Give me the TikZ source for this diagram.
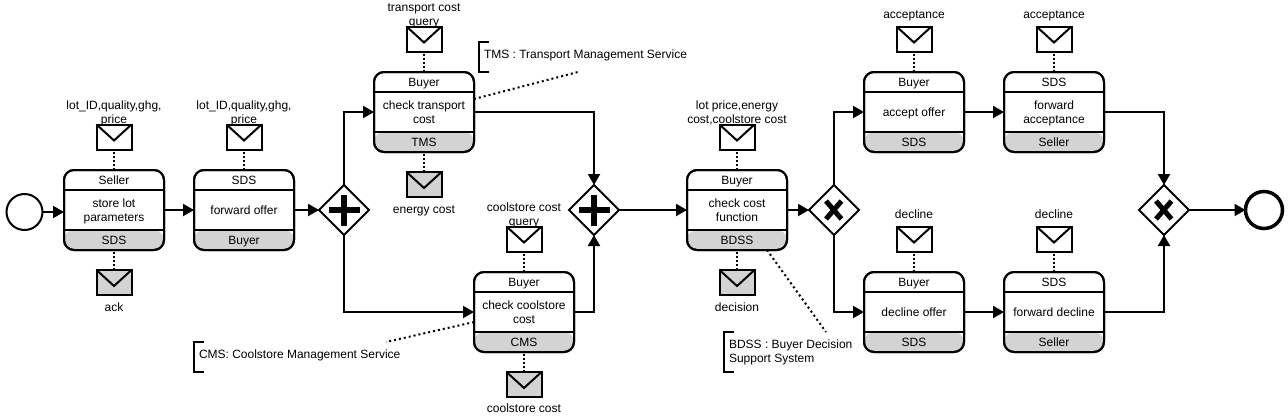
\documentclass[tikz,border=0pt]{standalone}
\usepackage{fontspec}
\setmainfont{Liberation Sans}
\usetikzlibrary{shapes.geometric,arrows.meta,calc}
\definecolor{greyband}{HTML}{D3D3D3}
\tikzset{
  x=1pt,y=-1pt,
  every node/.style={inner sep=0pt,outer sep=0pt,font=\fontsize{12}{14}\selectfont,align=center,text=black},
  lab/.style={execute at begin node={\rule{0pt}{11.5pt}},execute at end node={\rule[-3.5pt]{0pt}{3.5pt}}},
  labtwo/.style={lab,yshift=-2pt},
  taskbox/.style={draw,line width=2pt,rounded corners=10pt,minimum width=100pt,minimum height=80pt,
    path picture={\fill[greyband] ([yshift=20pt]path picture bounding box.south west) rectangle (path picture bounding box.north east |- path picture bounding box.south);}},
  envbox/.style={draw,line width=2pt,minimum width=35pt,minimum height=25pt},
  gatebox/.style={draw,diamond,line width=2pt,minimum width=50pt,minimum height=50pt,aspect=1,fill=white},
  eventc/.style={draw,circle,line width=2pt,minimum size=36pt},
  flow/.style={line width=2pt,-{Triangle[length=11pt,width=12pt]}},
  assoc/.style={line width=2pt,dash pattern=on 2pt off 3pt},
  assocv/.style={line width=2pt,dash pattern=on 2pt off 2pt,dash phase=2pt},
  divider/.style={line width=2pt},
  bracketline/.style={line width=2pt},
  note/.style={align=left,anchor=west},
}
\newcommand{\taskshape}[7][lab]{%
  \node[taskbox] (#2) at (#3,#4+40) {};
  \draw[divider] ([yshift=-20pt]#2.north west) -- ([yshift=-20pt]#2.north east);
  \draw[divider] ([yshift=20pt]#2.south west) -- ([yshift=20pt]#2.south east);
  \draw[line width=2pt,rounded corners=10pt] (#2.north west) rectangle (#2.south east);
  \node[lab] (#2h) at (#3,#4+10) {#5};
  \node[#1] (#2b) at (#3,#4+40) {#6};
  \node[lab] (#2f) at (#3,#4+70) {#7};
}
\newcommand{\envshape}[4]{%
  \node[envbox,fill=#4] (#1) at (#2,#3+12.5) {};
  \draw[line width=2pt,line join=miter] (#1.north west) -- ($(#1.north)+(0,-16pt)$) -- (#1.north east);
}
\newcommand{\plusglyph}[1]{%
  \draw[line width=6.5pt] ($(#1)+(-15.5pt,0)$) -- ($(#1)+(15.5pt,0)$);
  \draw[line width=6.5pt] ($(#1)+(0,-15.5pt)$) -- ($(#1)+(0,15.5pt)$);
}
\newcommand{\xglyph}[1]{%
  \draw[line width=5pt] ($(#1)+(-8pt,9pt)$) -- ($(#1)+(7.5pt,-9pt)$);
  \draw[line width=5pt] ($(#1)+(-8pt,-9pt)$) -- ($(#1)+(7.5pt,9pt)$);
}
\begin{document}
\begin{tikzpicture}
\useasboundingbox (0,0) rectangle (1288,416);
% events
\node[eventc] (start) at (24.5,212) {};
\node[eventc,line width=3.5pt,minimum size=37pt] (end) at (1264,210) {};
% tasks
\taskshape[labtwo]{ta}{114}{170}{Seller}{store lot\\parameters}{SDS}
\taskshape{tb}{244}{170}{SDS}{forward offer}{Buyer}
\taskshape[labtwo]{tc}{424}{72}{Buyer}{check transport\\cost}{TMS}
\taskshape[labtwo]{td}{524}{272}{Buyer}{check coolstore\\cost}{CMS}
\taskshape[labtwo]{te}{737}{170}{Buyer}{check cost\\function}{BDSS}
\taskshape{tf}{914}{72}{Buyer}{accept offer}{SDS}
\taskshape[labtwo]{tg}{1054}{72}{SDS}{forward\\acceptance}{Seller}
\taskshape{th}{914}{272}{Buyer}{decline offer}{SDS}
\taskshape{ti}{1054}{272}{SDS}{forward decline}{Seller}
% gateways
\node[gatebox] (ga) at (344,210) {};
\node[gatebox] (gb) at (594,210) {};
\node[gatebox] (gc) at (834,210) {};
\node[gatebox] (gd) at (1164,210) {};
\plusglyph{ga}\plusglyph{gb}\xglyph{gc}\xglyph{gd}
% envelopes
\envshape{ea}{114}{124.5}{white}
\envshape{eb}{244}{124.5}{white}
\envshape{ec}{424}{26.5}{white}
\envshape{ed}{524}{226.5}{white}
\envshape{ee}{737}{124.5}{white}
\envshape{ef}{914}{26.5}{white}
\envshape{eg}{1054}{26.5}{white}
\envshape{eh}{914}{226.5}{white}
\envshape{ei}{1054}{226.5}{white}
\envshape{ej}{114}{270}{greyband}
\envshape{ek}{424}{172}{greyband}
\envshape{el}{524}{372}{greyband}
\envshape{em}{737}{270}{greyband}
% envelope labels
\node[labtwo] (la) at (114,112) {lot\_ID,quality,ghg,\\price};
\node[labtwo] (lb) at (244,112) {lot\_ID,quality,ghg,\\price};
\node[labtwo] (lc) at (424,14) {transport cost\\query};
\node[labtwo] (ld) at (524,214) {coolstore cost\\query};
\node[labtwo] (le) at (737,112) {lot price,energy\\cost,coolstore cost};
\node[lab] (lf) at (914,14) {acceptance};
\node[lab] (lg) at (1054,14) {acceptance};
\node[lab] (lh) at (914,214) {decline};
\node[lab] (li) at (1054,214) {decline};
\node[lab] (lj) at (114,307) {ack};
\node[lab] (lk) at (424,209) {energy cost};
\node[lab] (ll) at (524,408.5) {coolstore cost};
\node[lab] (lm) at (737,307) {decision};
% associations
\foreach \e/\t in {ea/ta,eb/tb,ec/tc,ed/td,ee/te,ef/tf,eg/tg,eh/th,ei/ti}{\draw[assocv] (\e.south) -- (\t.north);}
\foreach \e/\t in {ej/ta,ek/tc,el/td,em/te}{\draw[assocv] (\t.south) -- (\e.north);}
% flows
\draw[flow] (start.east) -- (ta.west |- start.east);
\draw[flow] (ta.east) -- (tb.west);
\draw[flow] (tb.east) -- (ga.west);
\draw[flow] (ga.north) |- (tc.west);
\draw[flow] (ga.south) |- (td.west);
\draw[flow] (tc.east) -| (gb.north);
\draw[flow] (td.east) -| (gb.south);
\draw[flow] (gb.east) -- (te.west);
\draw[flow] (te.east) -- (gc.west);
\draw[flow] (gc.north) |- (tf.west);
\draw[flow] (gc.south) |- (th.west);
\draw[flow] (tf.east) -- (tg.west);
\draw[flow] (th.east) -- (ti.west);
\draw[flow] (tg.east) -| (gd.north);
\draw[flow] (ti.east) -| (gd.south);
\draw[flow] (gd.east) -- (end.west);
% notes
\node[note,lab] (na) at (484,54) {TMS : Transport Management Service};
\node[note,lab] (nb) at (199,354) {CMS: Coolstore Management Service};
\node[note,labtwo] (nc) at (729,351) {BDSS : Buyer Decision\\Support System};
\coordinate (naa) at (578,72);
\coordinate (nba) at (386,342);
\coordinate (nca) at (826,332);
\coordinate (tce) at (474,99);
\coordinate (tde) at (474,322);
\coordinate (tes) at (767,250);
\draw[bracketline] (488.5,42) -- (479,42) -- (479,72) -- (488.5,72);
\draw[bracketline] (204,342) -- (194,342) -- (194,372) -- (204,372);
\draw[bracketline] (734,332) -- (724,332) -- (724,372) -- (734,372);
\draw[assoc] (tce) -- (naa);
\draw[assoc] (tde) -- (nba);
\draw[assoc] (tes) -- (nca);
\end{tikzpicture}
\end{document}
